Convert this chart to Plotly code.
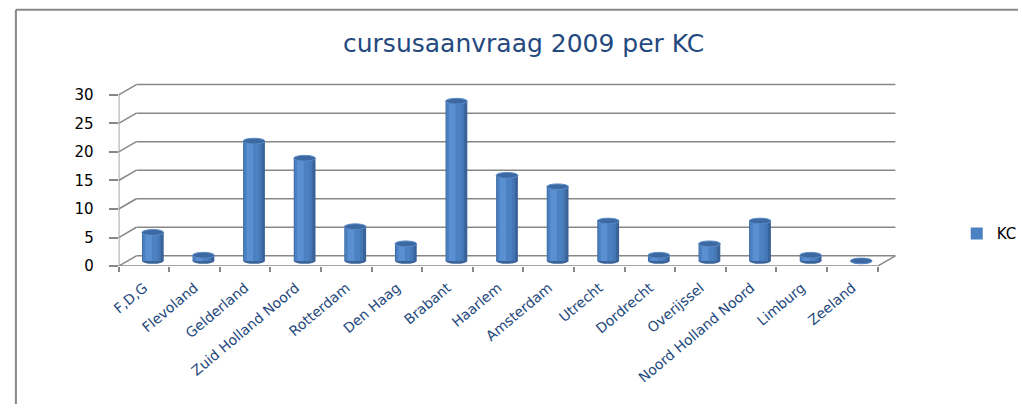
import plotly.graph_objects as go

# ---- data ----
categories = ["F,D,G", "Flevoland", "Gelderland", "Zuid Holland Noord", "Rotterdam",
              "Den Haag", "Brabant", "Haarlem", "Amsterdam", "Utrecht", "Dordrecht",
              "Overijssel", "Noord Holland Noord", "Limburg", "Zeeland"]
values = [5, 1, 21, 18, 6, 3, 28, 15, 13, 7, 1, 3, 7, 1, 0]
y_ticks = [0, 5, 10, 15, 20, 25, 30]
series_name = "KC"
chart_title = "cursusaanvraag 2009 per KC"

# ---- style / geometry ----
FW, FH = 1022, 413
DX = 0.35      # depth offset in category units
DY = 1.8       # depth offset in value units
BW = 0.43      # bar (cylinder) width
EH = 0.5       # half-height of ellipse caps (value units)
GRID = "#878787"
TXT_BLUE = "#1F497D"
n = len(categories)

fig = go.Figure()

# cylinder body layers (dark edge, body, highlight)
layers = [
    (BW, 0.0, "#3A6399", False),
    (BW * 0.84, BW * 0.02, "#4577B5", False),
    (BW * 0.66, BW * 0.06, "#4B80C1", True),
    (BW * 0.30, BW * 0.16, "#5A8FD1", False),
]
for w, shift, col, leg in layers:
    fig.add_trace(go.Bar(
        x=categories, y=values, base=DY / 2, width=w,
        offset=DX / 2 - BW / 2 + shift,
        marker=dict(color=col, line=dict(width=0)),
        name=series_name, showlegend=leg, hoverinfo="x+y",
    ))

shapes = []
top = max(y_ticks)
# back wall gridlines + side diagonals
for t in y_ticks:
    shapes.append(dict(type="line", xref="x", yref="y", layer="below",
                       x0=-0.5 + DX, x1=n - 0.5 + DX, y0=t + DY, y1=t + DY,
                       line=dict(color=GRID, width=1.5)))
    shapes.append(dict(type="line", xref="x", yref="y", layer="below",
                       x0=-0.5, x1=-0.5 + DX, y0=t, y1=t + DY,
                       line=dict(color=GRID, width=1.5)))
# front axis lines
shapes.append(dict(type="line", xref="x", yref="y", layer="below",
                   x0=-0.5, x1=-0.5, y0=0, y1=top, line=dict(color=GRID, width=1.5)))
shapes.append(dict(type="line", xref="x", yref="y", layer="below",
                   x0=-0.5, x1=n - 0.5, y0=0, y1=0, line=dict(color=GRID, width=1.5)))
shapes.append(dict(type="line", xref="x", yref="y", layer="below",
                   x0=n - 0.5, x1=n - 0.5 + DX, y0=0, y1=DY, line=dict(color=GRID, width=1.5)))

# cylinder caps
for i, v in enumerate(values):
    cx0 = i + DX / 2 - BW / 2
    cx1 = i + DX / 2 + BW / 2
    shapes.append(dict(type="circle", xref="x", yref="y", layer="below",
                       x0=cx0, x1=cx1, y0=DY / 2 - EH, y1=DY / 2 + EH,
                       fillcolor="#3A6399", line=dict(width=0)))
    shapes.append(dict(type="circle", xref="x", yref="y", layer="above",
                       x0=cx0, x1=cx1, y0=v + DY / 2 - EH, y1=v + DY / 2 + EH,
                       fillcolor="#3D69A2", line=dict(color="#5A8BC9", width=1)))

# outer frame (top and left edges)
shapes.append(dict(type="line", xref="paper", yref="paper",
                   x0=8 / FW, x1=1.0, y0=1 - 10 / FH, y1=1 - 10 / FH,
                   line=dict(color="#888888", width=2)))
shapes.append(dict(type="line", xref="paper", yref="paper",
                   x0=8 / FW, x1=8 / FW, y0=0, y1=1 - 10 / FH,
                   line=dict(color="#888888", width=2)))

y_px0, px_per_unit = 272, 175 / 30
y_max = top + DY + 0.3
x_px0, px_per_cat = 112, 768 / n
x_max = n - 0.5 + DX + 0.02

fig.update_layout(
    width=FW, height=FH,
    margin=dict(l=0, r=0, t=0, b=0),
    paper_bgcolor="white", plot_bgcolor="rgba(0,0,0,0)",
    barmode="overlay",
    shapes=shapes,
    showlegend=True,
    legend=dict(x=960 / FW, y=1 - 239 / FH, xanchor="left", yanchor="middle",
                font=dict(family="DejaVu Sans", size=15, color="black"),
                bgcolor="rgba(0,0,0,0)", itemwidth=30),
    annotations=[dict(text=chart_title, xref="paper", yref="paper",
                      x=522 / FW, y=1 - 44 / FH, xanchor="center", yanchor="middle",
                      showarrow=False,
                      font=dict(family="DejaVu Sans", size=25, color="#24497E"))],
    xaxis=dict(
        type="category", categoryorder="array", categoryarray=categories,
        range=[-0.5, x_max],
        domain=[x_px0 / FW, (x_px0 + (x_max + 0.5) * px_per_cat) / FW],
        showgrid=False, zeroline=False, showline=False,
        tickson="boundaries", ticks="outside", ticklen=5, tickcolor=GRID, tickwidth=1.5,
        tickangle=-40, ticklabelstandoff=10,
        tickfont=dict(family="DejaVu Sans", size=14, color=TXT_BLUE),
        fixedrange=True,
    ),
    yaxis=dict(
        range=[0, y_max],
        domain=[1 - y_px0 / FH, 1 - (y_px0 - y_max * px_per_unit) / FH],
        tickvals=y_ticks, ticktext=[str(t) for t in y_ticks],
        showgrid=False, zeroline=False, showline=False,
        ticks="outside", ticklen=9, tickcolor=GRID, tickwidth=1.5,
        ticklabelstandoff=12,
        tickfont=dict(family="DejaVu Sans", size=15, color="black"),
        fixedrange=True,
    ),
)

fig.write_html("out.html",
               config={"displayModeBar": False},
               post_script="document.body.style.margin='0px';"
                           "document.body.style.overflow='hidden';")
